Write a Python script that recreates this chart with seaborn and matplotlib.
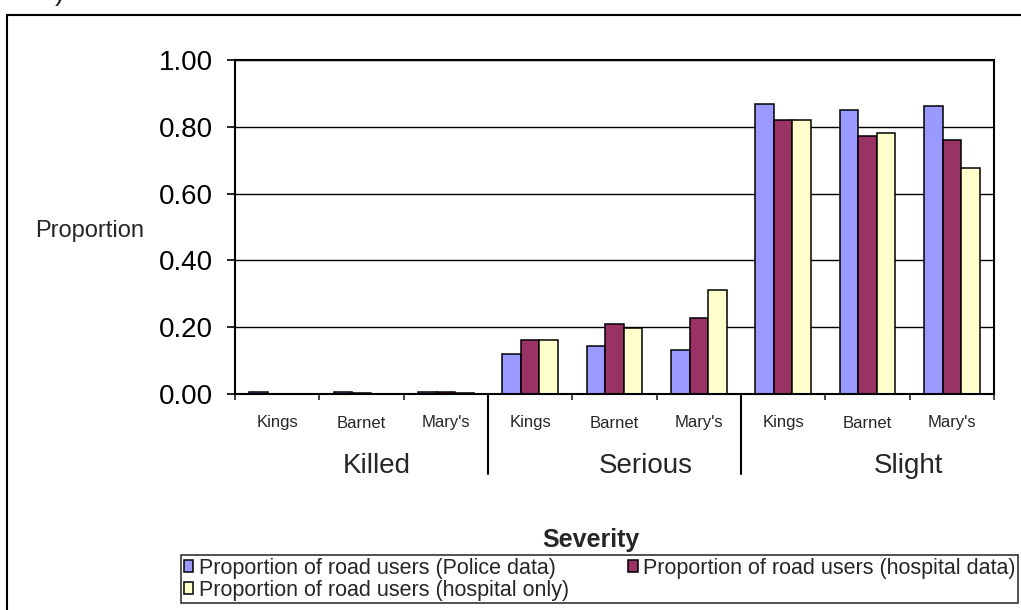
import numpy as np
import pandas as pd
import matplotlib
matplotlib.use("Agg")
import matplotlib.pyplot as plt
from matplotlib.patches import Rectangle, Patch
import seaborn as sns

# ---- data -------------------------------------------------------------
severities = ["Killed", "Serious", "Slight"]
hospitals = ["Kings", "Barnet", "Mary's"]
series_names = [
    "Proportion of road users (Police data)",
    "Proportion of road users (hospital data)",
    "Proportion of road users (hospital only)",
]
police_data = [0.005, 0.005, 0.006, 0.119, 0.143, 0.132, 0.869, 0.850, 0.863]
hospital_data = [0.000, 0.004, 0.005, 0.161, 0.209, 0.227, 0.820, 0.772, 0.760]
hospital_only = [0.000, 0.000, 0.004, 0.161, 0.197, 0.311, 0.821, 0.780, 0.677]
y_ticks = [0.0, 0.2, 0.4, 0.6, 0.8, 1.0]
x_title = "Severity"
y_title = "Proportion"

# ---- styling ----------------------------------------------------------
colors = ["#9999FF", "#993366", "#FFFFCC"]
sns.set_style("white")
plt.rcParams["font.family"] = ["Liberation Sans", "DejaVu Sans"]

W_PX, H_PX = 1021, 610
PLOT_L, PLOT_R, PLOT_T, PLOT_B = 235, 994, 60, 394

keys = [f"{s}|{h}" for s in severities for h in hospitals]
df = pd.DataFrame({
    "key": keys * 3,
    "series": np.repeat(series_names, len(keys)),
    "value": police_data + hospital_data + hospital_only,
})

fig = plt.figure(figsize=(W_PX / 100, H_PX / 100), dpi=100)
ax = fig.add_axes([
    PLOT_L / W_PX,
    1 - PLOT_B / H_PX,
    (PLOT_R - PLOT_L) / W_PX,
    (PLOT_B - PLOT_T) / H_PX,
])

sns.barplot(
    data=df, x="key", y="value", hue="series",
    order=keys, hue_order=series_names, palette=colors,
    saturation=1, width=0.664, gap=0, errorbar=None,
    edgecolor="black", linewidth=1.1, legend=False, ax=ax,
)

# axes frame, grid and ticks
ax.set_xlim(-0.5, len(keys) - 0.5)
ax.set_ylim(0, 1.0)
ax.set_yticks(y_ticks)
ax.set_yticklabels([f"{v:.2f}" for v in y_ticks], fontsize=20)
ax.yaxis.grid(True, color="black", linewidth=1.0)
ax.set_axisbelow(True)
for sp in ax.spines.values():
    sp.set_visible(True)
    sp.set_color("black")
    sp.set_linewidth(1.5)
ax.tick_params(axis="y", direction="out", length=6, width=1.2, pad=10,
               colors="black", left=True)
ax.set_xticks(np.arange(-0.5, len(keys), 1.0))
ax.set_xticklabels([])
ax.tick_params(axis="x", direction="out", length=4.5, width=1.2, bottom=True)
ax.set_xlabel("")
ax.set_ylabel("")

# category labels and group separators below the axis
xt = ax.get_xaxis_transform()
axes_h = PLOT_B - PLOT_T
for i, key in enumerate(keys):
    ax.text(i, (PLOT_B - 423) / axes_h, key.split("|")[1], transform=xt,
            ha="center", va="center", fontsize=12)
group_label_x = [1.18, 4.37, 7.49]
for gx, sev in zip(group_label_x, severities):
    ax.text(gx, (PLOT_B - 466) / axes_h, sev, transform=xt,
            ha="center", va="center", fontsize=20)
for b in [2.5, 5.5]:
    ax.plot([b, b], [0, (PLOT_B - 474) / axes_h], transform=xt,
            color="black", lw=1.5, clip_on=False)

# titles
fig.text(35 / W_PX, 1 - 231 / H_PX, y_title, ha="left", va="center", fontsize=17)
fig.text(591 / W_PX, 1 - 540 / H_PX, x_title, ha="center", va="center",
         fontsize=18, fontweight="bold")

# legend, filled row by row
handles = [Patch(facecolor=c, edgecolor="black", linewidth=1.1) for c in colors]
order = [0, 2, 1]
leg = fig.legend(
    [handles[i] for i in order], [series_names[i] for i in order],
    loc="upper left", bbox_to_anchor=(181 / W_PX, 1 - 555 / H_PX),
    ncol=2, fontsize=15.5, frameon=True, fancybox=False, edgecolor="black",
    handlelength=0.45, handleheight=0.45, handletextpad=0.25,
    columnspacing=2.75, borderpad=0.12, labelspacing=0.05, borderaxespad=0,
)
leg.get_frame().set_linewidth(1.2)

# outer chart border and a clipped glyph from the text above
fig.add_artist(Rectangle((7 / W_PX, -0.1), 1.2, 1.1 - 15 / H_PX,
                         transform=fig.transFigure, fill=False,
                         edgecolor="black", linewidth=1.5))
fig.text(55 / W_PX, 1.0, ")", ha="left", va="baseline", fontsize=20)

fig.savefig("out.png", dpi=100)
